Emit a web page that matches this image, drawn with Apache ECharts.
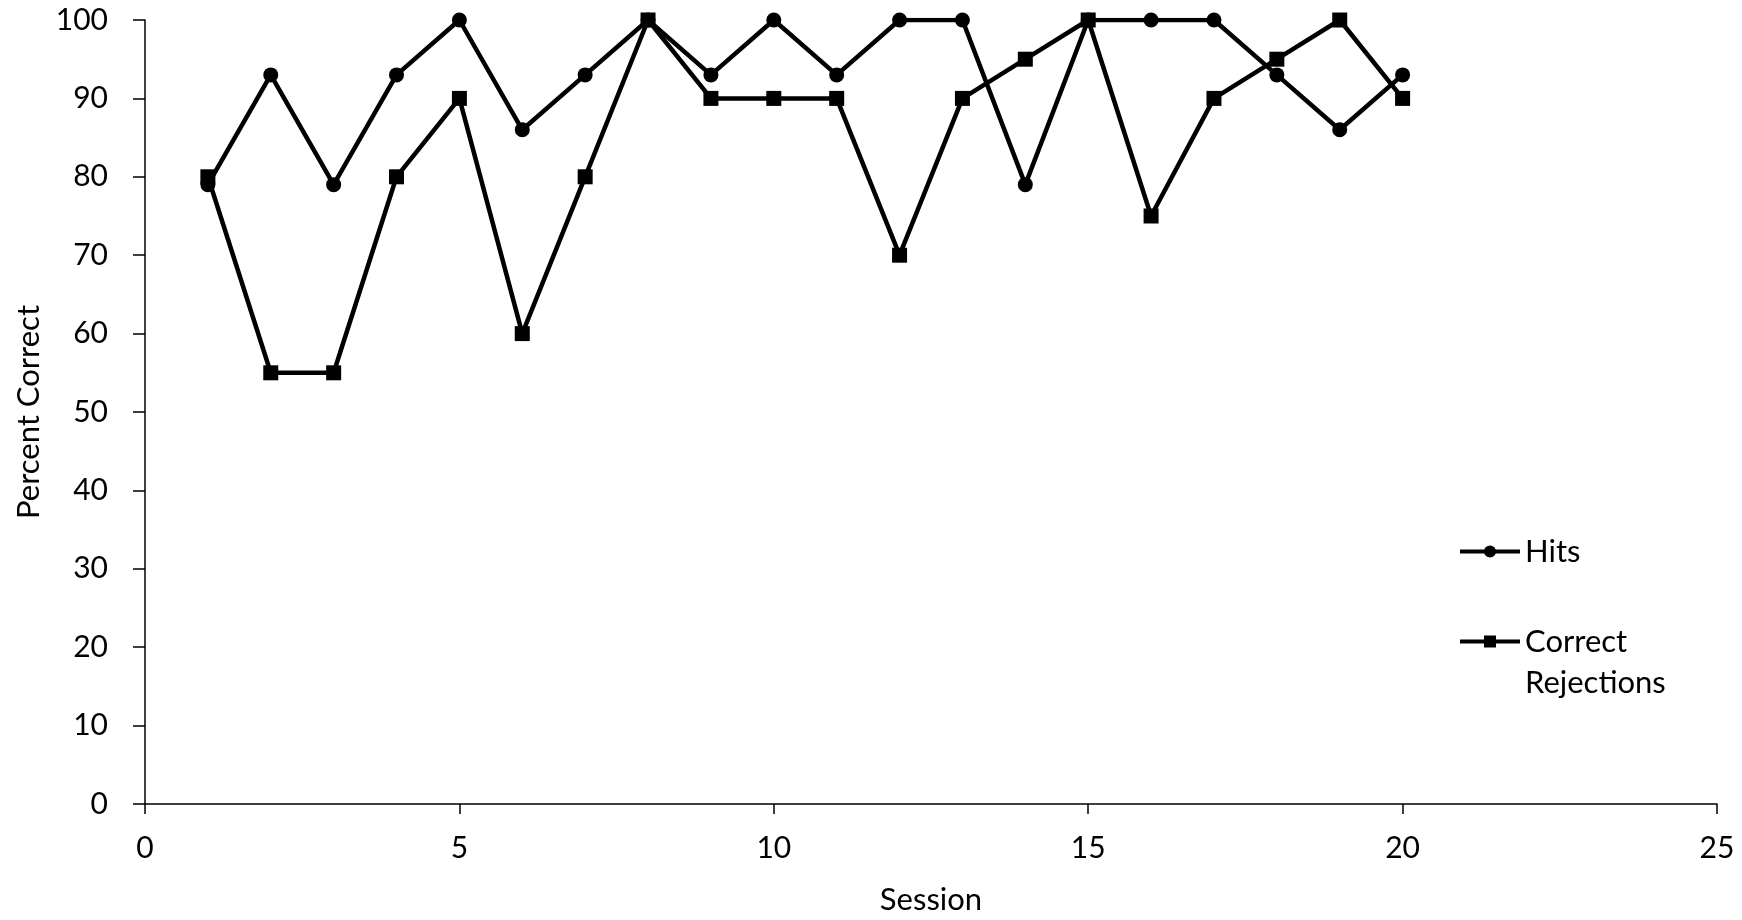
<!DOCTYPE html>
<html>
<head>
<meta charset="utf-8">
<script src="https://cdn.jsdelivr.net/npm/echarts@6/dist/echarts.min.js"></script>
<style>
  html, body { margin: 0; padding: 0; background: #fff; }
  #chart { width: 1742px; height: 920px; }
</style>
</head>
<body>
<div id="chart"></div>
<script>
const sessions = [1,2,3,4,5,6,7,8,9,10,11,12,13,14,15,16,17,18,19,20];
const hits = [79,93,79,93,100,86,93,100,93,100,93,100,100,79,100,100,100,93,86,93];
const correctRejections = [80,55,55,80,90,60,80,100,90,90,90,70,90,95,100,75,90,95,100,90];
const xTicks = { min: 0, max: 25, interval: 5 };
const yTicks = { min: 0, max: 100, interval: 10 };

const font = 'Lato';
const toPairs = (xs, ys) => xs.map((x, i) => [x, ys[i]]);

const chart = echarts.init(document.getElementById('chart'), null, { renderer: 'canvas' });
chart.setOption({
  backgroundColor: '#fff',
  animation: false,
  grid: { left: 145, right: 25, top: 20, bottom: 116, containLabel: false },
  xAxis: {
    type: 'value', min: xTicks.min, max: xTicks.max, interval: xTicks.interval,
    name: 'Session', nameLocation: 'middle', nameGap: 80,
    nameTextStyle: { fontFamily: font, fontSize: 31, color: '#000' },
    axisLine: { show: true, lineStyle: { color: '#000', width: 1.5 } },
    axisTick: { show: true, inside: false, length: 10, lineStyle: { color: '#000', width: 1.5 } },
    axisLabel: { fontFamily: font, fontSize: 30, color: '#000', margin: 29 },
    splitLine: { show: false }
  },
  yAxis: {
    type: 'value', min: yTicks.min, max: yTicks.max, interval: yTicks.interval,
    name: 'Percent Correct', nameLocation: 'middle', nameGap: 101, nameRotate: 90,
    nameTextStyle: { fontFamily: font, fontSize: 31, color: '#000' },
    axisLine: { show: true, lineStyle: { color: '#000', width: 1.5 } },
    axisTick: { show: true, inside: false, length: 12, lineStyle: { color: '#000', width: 1.5 } },
    axisLabel: { fontFamily: font, fontSize: 30, color: '#000', margin: 37 },
    splitLine: { show: false }
  },
  legend: [
    {
      data: ['Hits'], orient: 'vertical', left: 1458, top: 531, padding: 0,
      itemWidth: 60, itemHeight: 15, itemGap: 5,
      lineStyle: { width: 4, color: '#000' },
      textStyle: { fontFamily: font, fontSize: 31, color: '#000', lineHeight: 41 }
    },
    {
      data: ['Correct Rejections'], orient: 'vertical', left: 1458, top: 580, padding: 0,
      itemWidth: 60, itemHeight: 15, itemGap: 5,
      lineStyle: { width: 4, color: '#000' },
      formatter: function () { return '\u00a0\nCorrect\nRejections'; },
      textStyle: { fontFamily: font, fontSize: 31, color: '#000', lineHeight: 41 }
    }
  ],
  series: [
    {
      name: 'Hits', type: 'line', data: toPairs(sessions, hits),
      symbol: 'circle', symbolSize: 15,
      lineStyle: { color: '#000', width: 4.5 },
      itemStyle: { color: '#000' }
    },
    {
      name: 'Correct Rejections', type: 'line', data: toPairs(sessions, correctRejections),
      symbol: 'rect', symbolSize: 15,
      lineStyle: { color: '#000', width: 4.5 },
      itemStyle: { color: '#000' }
    }
  ]
});
</script>
</body>
</html>
